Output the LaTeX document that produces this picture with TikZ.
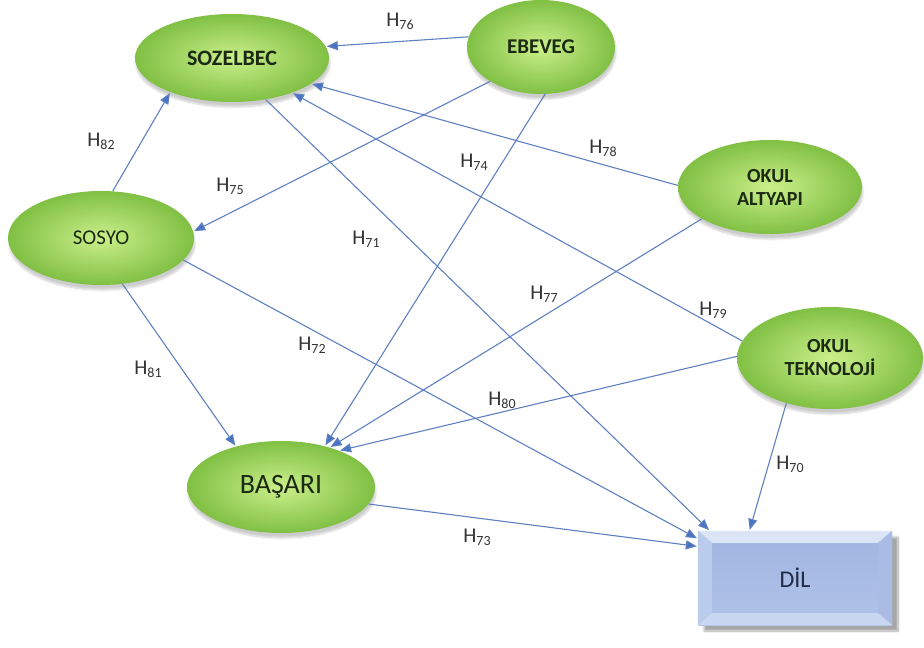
\documentclass[tikz,border=0pt]{standalone}
\usepackage{fontspec}
\setmainfont{Carlito}
\usetikzlibrary{arrows.meta,shapes.geometric,shadows.blur,calc}
\definecolor{gIn}{HTML}{CBEF8A}
\definecolor{gOut}{HTML}{80C044}
\definecolor{arrowblue}{HTML}{4A74C2}
\definecolor{linkblue}{HTML}{5E80C2}
\definecolor{nodetext}{HTML}{1C2A14}
\definecolor{diltext}{HTML}{1F2B45}
\definecolor{labelgray}{HTML}{333333}
\definecolor{dilface}{HTML}{A1B5E0}
\definecolor{dilface2}{HTML}{B0C2E8}
\definecolor{diltop}{HTML}{DCE5F5}
\definecolor{dilleft}{HTML}{BBCBEB}
\definecolor{dilright}{HTML}{AABCE3}
\definecolor{dilbottom}{HTML}{CAD7F0}
\newcommand\hyp[1]{H\raisebox{-0.28ex}{\fontsize{14}{14}\selectfont #1}}
\tikzset{
  construct/.style={ellipse, inner sep=0pt, align=center, text=nodetext,
    font=\fontsize{22}{24}\selectfont\bfseries,
    shading=radial, inner color=gIn, outer color=gOut,
    blur shadow={shadow xshift=1pt, shadow yshift=-5pt, shadow opacity=20, shadow blur steps=10}},
  link/.style={draw=linkblue, line width=1.1pt,
    -{Triangle[length=11pt,width=9pt,fill=arrowblue]}, shorten >=1pt},
  hlabel/.style={text=labelgray, font=\fontsize{21}{21}\selectfont, inner sep=0pt}
}
\begin{document}
\begin{tikzpicture}[x=1pt,y=-1pt]
\useasboundingbox (0,0) rectangle (924,648);

% constructs
\node[construct, minimum width=194, minimum height=88] (sozelbec) at (232,58) {SOZELBEC};
\node[construct, minimum width=148, minimum height=94, font=\fontsize{21}{22}\selectfont\bfseries] (ebeveg) at (541,47) {EBEVEG};
\node[construct, minimum width=184, minimum height=94, font=\fontsize{20}{23}\selectfont\bfseries] (altyapi) at (770,187) {OKUL\\ALTYAPI};
\node[construct, minimum width=186, minimum height=102, font=\fontsize{20}{23}\selectfont\bfseries] (teknoloji) at (830,358) {OKUL\\TEKNOLOJİ};
\node[construct, minimum width=186, minimum height=94, font=\fontsize{21}{21}\selectfont] (sosyo) at (101,238) {SOSYO};
\node[construct, minimum width=188, minimum height=92, font=\fontsize{28}{28}\selectfont] (basari) at (281,487) {BAŞARI};

% outcome box with bevelled rim
\node[rectangle, minimum width=194, minimum height=94, inner sep=0pt,
  top color=dilface, bottom color=dilface2,
  blur shadow={shadow xshift=6pt, shadow yshift=-6pt, shadow opacity=35, shadow blur steps=12},
  text=diltext, font=\fontsize{24}{24}\selectfont] (dil) at (795,578) {DİL};
\fill[diltop] (dil.north west) -- (dil.north east) -- ($(dil.north east)+(-14,12)$) -- ($(dil.north west)+(14,12)$) -- cycle;
\fill[dilleft] (dil.north west) -- ($(dil.north west)+(14,12)$) -- ($(dil.south west)+(14,-12)$) -- (dil.south west) -- cycle;
\fill[dilright] (dil.north east) -- ($(dil.north east)+(-14,12)$) -- ($(dil.south east)+(-14,-12)$) -- (dil.south east) -- cycle;
\fill[dilbottom] (dil.south west) -- ($(dil.south west)+(14,-12)$) -- ($(dil.south east)+(-14,-12)$) -- (dil.south east) -- cycle;

% hypothesised paths
\draw[link] (ebeveg.172) -- (sozelbec.7);
\draw[link] (sosyo.76) -- (sozelbec.209);
\draw[link] (ebeveg.214) -- (sosyo.4);
\draw[link] (altyapi.179) -- (sozelbec.342);
\draw[link] (teknoloji.169) -- (sozelbec.330);
\draw[link] (sozelbec.309) -- (dil.151.8);
\draw[link] (ebeveg.275) -- (basari.43.8);
\draw[link] (altyapi.205.6) -- (basari.39.2);
\draw[link] (teknoloji.179.4) -- (basari.32.8);
\draw[link] (sosyo.295) -- (basari.138.8);
\draw[link] (sosyo.345) -- (dil.158.2);
\draw[link] (basari.349) -- (dil.162);
\draw[link] (teknoloji.226) -- (dil.134.4);

% path labels
\node[hlabel] (h76) at (400,21) {\hyp{76}};
\node[hlabel] (h82) at (101,141) {\hyp{82}};
\node[hlabel] (h75) at (230,186) {\hyp{75}};
\node[hlabel] (h78) at (603,148) {\hyp{78}};
\node[hlabel] (h74) at (474,162) {\hyp{74}};
\node[hlabel] (h71) at (366,239) {\hyp{71}};
\node[hlabel] (h77) at (544,294) {\hyp{77}};
\node[hlabel] (h79) at (713,310) {\hyp{79}};
\node[hlabel] (h72) at (312,345) {\hyp{72}};
\node[hlabel] (h81) at (148,369) {\hyp{81}};
\node[hlabel] (h80) at (502,400) {\hyp{80}};
\node[hlabel] (h70) at (790,464) {\hyp{70}};
\node[hlabel] (h73) at (477,537) {\hyp{73}};
\end{tikzpicture}
\end{document}
